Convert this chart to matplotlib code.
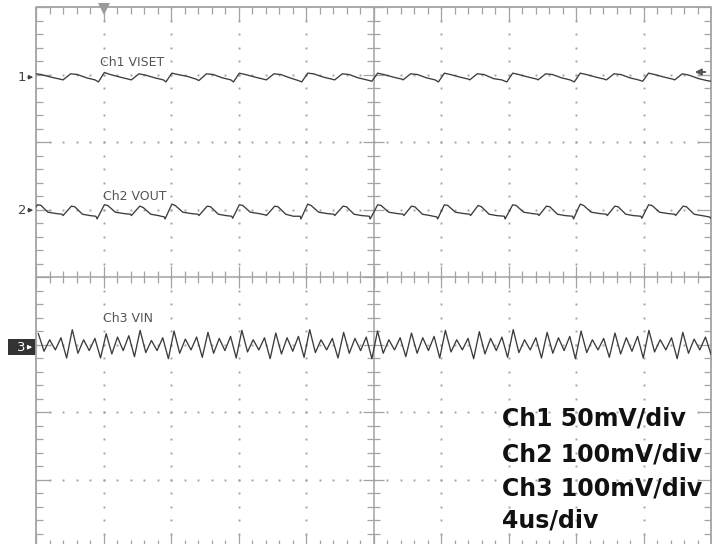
import numpy as np
import matplotlib
matplotlib.use('Agg')
import matplotlib.pyplot as plt
from matplotlib.patches import Rectangle

# scope settings
time_per_div = 4.0                 # us/div
ch_scale_mv = [50.0, 100.0, 100.0]  # mV/div
ch_offset_div = [2.96, 0.99, -1.04]

ch_labels = ['Ch1 VISET', 'Ch2 VOUT', 'Ch3 VIN']
settings_lines = ['Ch1 50mV/div', 'Ch2 100mV/div', 'Ch3 100mV/div', '4us/div']

# Ch1 VISET, corner points (time us, mV)
ch1_t = [0.0, 0.3, 0.9, 1.45,
         1.6, 2.05, 2.45, 3.0, 3.5,
         3.7, 4.05, 4.4, 5.0, 5.5,
         5.65, 6.1, 6.5, 7.05, 7.55,
         7.7, 8.05, 8.4, 9.0, 9.5,
         9.65, 10.1, 10.5, 11.05, 11.55,
         11.7, 12.05, 12.4, 13.0, 13.5,
         13.65, 14.1, 14.5, 15.05, 15.55,
         15.75, 16.1, 16.45, 17.05, 17.55,
         17.7, 18.15, 18.55, 19.1, 19.6,
         19.9, 20.25, 20.6, 21.2, 21.7,
         21.75, 22.2, 22.6, 23.15, 23.65,
         23.85, 24.2, 24.55, 25.15, 25.65,
         25.7, 26.15, 26.55, 27.1, 27.6,
         27.9, 28.25, 28.6, 29.2, 29.7,
         29.75, 30.2, 30.6, 31.15, 31.65,
         31.9, 32.25, 32.6, 33.2, 33.7,
         33.8, 34.25, 34.65, 35.2, 35.7,
         35.95, 36.3, 36.65, 37.25, 37.75,
         37.85, 38.3, 38.7, 39.25, 39.75, 40.0]
ch1_mv = [2.5, 2.0, 0.0, -1.5,
          -2.0, 2.5, 2.0, -0.5, -2.0,
          -3.5, 3.5, 2.0, 0.0, -1.5,
          -2.0, 2.5, 1.5, -0.5, -2.0,
          -3.5, 3.0, 2.0, 0.5, -1.5,
          -2.5, 2.5, 2.0, -0.5, -2.0,
          -3.5, 3.0, 2.0, 0.0, -1.5,
          -2.0, 2.5, 2.0, -0.5, -2.5,
          -3.5, 3.0, 2.5, 0.0, -1.5,
          -2.0, 2.5, 2.0, -0.5, -2.0,
          -3.0, 3.0, 2.0, 0.0, -1.5,
          -2.0, 2.5, 2.0, -0.5, -2.0,
          -3.5, 3.0, 2.0, 0.0, -1.5,
          -2.0, 2.5, 2.0, -1.0, -2.0,
          -3.5, 3.0, 2.0, 0.0, -1.5,
          -2.0, 2.5, 2.0, -0.5, -2.0,
          -3.5, 3.0, 2.0, 0.0, -1.5,
          -2.0, 2.5, 2.0, -0.5, -2.0,
          -3.0, 3.0, 2.0, 0.0, -1.5,
          -2.0, 2.5, 1.5, -1.0, -2.5, -3.0]

# Ch2 VOUT, corner points (time us, mV)
ch2_t = [0.0, 0.1, 0.3, 0.7, 1.2, 1.55,
         1.6, 2.1, 2.3, 2.75, 3.2, 3.55,
         3.62, 4.05, 4.25, 4.7, 5.2, 5.6,
         5.65, 6.15, 6.35, 6.8, 7.25, 7.6,
         7.65, 8.05, 8.25, 8.7, 9.2, 9.6,
         9.65, 10.15, 10.35, 10.8, 11.25, 11.6,
         11.65, 12.05, 12.25, 12.7, 13.2, 13.6,
         13.65, 14.15, 14.35, 14.8, 15.25, 15.65,
         15.7, 16.1, 16.3, 16.75, 17.25, 17.65,
         17.7, 18.2, 18.4, 18.85, 19.3, 19.75,
         19.8, 20.25, 20.45, 20.9, 21.4, 21.75,
         21.8, 22.25, 22.45, 22.9, 23.35, 23.75,
         23.8, 24.2, 24.4, 24.85, 25.35, 25.7,
         25.75, 26.2, 26.4, 26.85, 27.3, 27.75,
         27.8, 28.25, 28.45, 28.9, 29.4, 29.75,
         29.8, 30.25, 30.45, 30.9, 31.35, 31.8,
         31.85, 32.25, 32.45, 32.9, 33.4, 33.8,
         33.85, 34.3, 34.5, 34.95, 35.4, 35.85,
         35.9, 36.3, 36.5, 36.95, 37.45, 37.85,
         37.9, 38.35, 38.55, 39.0, 39.45, 39.9, 40.0]
ch2_mv = [5, 8, 7, -3, -5, -6,
          -8, 6, 5, -6, -8, -9,
          -13, 8, 7, -3, -5, -6,
          -8, 6, 4, -6, -8, -10,
          -13, 9, 7, -3, -5, -6,
          -8, 6, 5, -6, -8, -9,
          -12, 8, 7, -3, -5, -7,
          -8, 6, 5, -6, -9, -9,
          -13, 9, 7, -3, -5, -6,
          -8, 6, 5, -6, -8, -9,
          -13, 8, 7, -3, -5, -6,
          -8, 6, 5, -6, -8, -10,
          -13, 8, 7, -3, -5, -6,
          -8, 7, 5, -6, -8, -9,
          -13, 8, 7, -3, -5, -6,
          -8, 6, 5, -6, -8, -9,
          -13, 9, 7, -3, -5, -6,
          -8, 6, 5, -6, -8, -9,
          -12, 8, 7, -3, -5, -6,
          -8, 6, 5, -6, -8, -10, -12]

# Ch3 VIN, successive peaks / troughs (mV), evenly spaced in time
ch3_t_first = 0.14   # us
ch3_t_step = 0.335   # us between extrema
ch3_mv = [17, -9, 8, -7, 11, -19,
          23, -12, 8, -8, 10, -19,
          17, -13, 12, -8, 14, -17,
          22, -11, 7, -8, 11, -20,
          21, -12, 9, -7, 12, -18,
          19, -12, 10, -8, 13, -19,
          22, -10, 8, -7, 11, -20,
          18, -13, 11, -9, 13, -18,
          23, -11, 8, -7, 10, -19,
          19, -12, 10, -8, 12, -20,
          21, -12, 8, -7, 11, -17,
          18, -12, 11, -8, 13, -19,
          22, -10, 8, -7, 10, -20,
          20, -13, 10, -8, 12, -18,
          23, -11, 8, -7, 11, -19,
          19, -12, 11, -8, 13, -20,
          21, -11, 8, -7, 10, -18,
          18, -13, 11, -9, 13, -19,
          22, -10, 8, -7, 11, -20,
          19, -12, 9, -7, 12, -14]

GRID = '#a3a3a3'
TRACE = '#3c3c3c'
LABEL = '#555555'
small_font = ['Liberation Sans Narrow', 'DejaVu Sans']

fig = plt.figure(figsize=(7.18, 5.44), dpi=100)
ax = fig.add_axes([36 / 718, -3 / 544, 675 / 718, 540 / 544])
ax.set_xlim(0, 10)
ax.set_ylim(-4, 4)
ax.axis('off')


def px(x, y):
    # picture pixels -> divisions
    return (x - 36) / 67.5, (277 - y) / 67.5


# dotted graticule
fine_x = np.round(np.arange(0, 10.001, 0.2), 3)
fine_y = np.round(np.arange(-4, 4.001, 0.2), 3)
for xi in [1, 2, 3, 4, 6, 7, 8, 9]:
    ax.plot(np.full(fine_y.size, xi), fine_y, ls='none', marker='s', ms=1.4, mew=0, color=GRID)
for yi in [-3, -2, -1, 1, 2, 3]:
    ax.plot(fine_x, np.full(fine_x.size, yi), ls='none', marker='s', ms=1.4, mew=0, color=GRID)

# frame and centre cross
ax.plot([0, 10, 10, 0, 0], [-4, -4, 4, 4, -4], color=GRID, lw=1.3, clip_on=False)
ax.plot([0, 10], [0, 0], color=GRID, lw=1.1)
ax.plot([5, 5], [-4, 4], color=GRID, lw=1.1)

major_x = np.isclose(fine_x, np.round(fine_x))
major_y = np.isclose(fine_y, np.round(fine_y))
edge_x = np.where(major_x, 0.2, 0.1)
edge_y = np.where(major_y, 0.2, 0.1)
cross_x = np.where(major_x, 0.16, 0.09)
cross_y = np.where(major_y, 0.16, 0.09)
ax.vlines(fine_x, 4 - edge_x, 4, color=GRID, lw=0.9)
ax.vlines(fine_x, -4, -4 + edge_x, color=GRID, lw=0.9)
ax.vlines(fine_x, -cross_x, cross_x, color=GRID, lw=0.9)
ax.hlines(fine_y, 0, edge_y, color=GRID, lw=0.9)
ax.hlines(fine_y, 10 - edge_y, 10, color=GRID, lw=0.9)
ax.hlines(fine_y, 5 - cross_y, 5 + cross_y, color=GRID, lw=0.9)

# trigger position marker
tx, ty = px(104, 9)
ax.plot([tx], [ty], marker='v', ms=8, color='#9a9a9a', mew=0, clip_on=False)

# traces
traces = [(ch1_t, ch1_mv),
          (ch2_t, ch2_mv),
          (ch3_t_first + ch3_t_step * np.arange(len(ch3_mv)), ch3_mv)]
for i, (t, mv) in enumerate(traces):
    x = np.asarray(t, dtype=float) / time_per_div
    y = ch_offset_div[i] + np.asarray(mv, dtype=float) / ch_scale_mv[i]
    if i == 2:
        y = y + 0.03  # trace sits a little above its marker
    ax.plot(x, y, color=TRACE, lw=0.95)

# channel names on the screen
label_pos = [(100, 66), (103, 200), (103, 322)]
for name, (lx, ly) in zip(ch_labels, label_pos):
    ax.text(*px(lx, ly), name, fontsize=9, color=LABEL, family=small_font, va='baseline')

# ground markers on the left
for i, num in enumerate(['1', '2']):
    yy = ch_offset_div[i]
    ax.text(px(18, 0)[0], yy, num, fontsize=9.5, color='#444444', family=small_font,
            va='center', ha='left', clip_on=False)
    ax.annotate('', xy=(px(36, 0)[0], yy), xytext=(px(25, 0)[0], yy),
                arrowprops=dict(arrowstyle='-|>', lw=0.9, color='#444444', mutation_scale=6),
                annotation_clip=False)

bx0, by0 = px(8, 355)
bx1, by1 = px(36, 339)
ax.add_patch(Rectangle((bx0, by0), bx1 - bx0, by1 - by0, facecolor='#333333', edgecolor='none',
                       clip_on=False))
y3 = ch_offset_div[2]
ax.text(px(17, 0)[0], y3, '3', fontsize=9.5, color='white', family=small_font,
        va='center', ha='left', clip_on=False)
ax.annotate('', xy=(px(35, 0)[0], y3), xytext=(px(25, 0)[0], y3),
            arrowprops=dict(arrowstyle='-|>', lw=0.9, color='white', mutation_scale=6),
            annotation_clip=False)

# reference level arrow at the right edge
ax.annotate('', xy=px(692, 72), xytext=px(708, 72),
            arrowprops=dict(arrowstyle='-|>', lw=1.4, color='#555555', mutation_scale=9),
            annotation_clip=False)

# settings text
baselines = [426, 461, 495, 527]
for line, yb in zip(settings_lines, baselines):
    ax.text(*px(502, yb), line, fontsize=17, fontweight='bold', color='#111111',
            family='DejaVu Sans', va='baseline', ha='left')

fig.savefig('out.png', dpi=100, facecolor='white')
